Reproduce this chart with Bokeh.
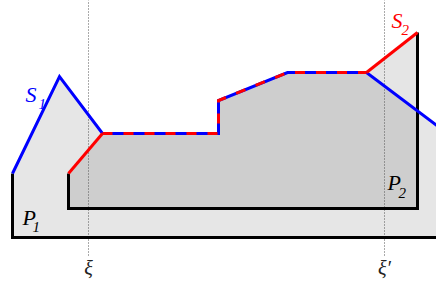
from bokeh.plotting import figure
from bokeh.models import Range1d
from bokeh.core.properties import value
from bokeh.embed import file_html
from bokeh.resources import INLINE

# Diagram vertices (x right, y up)
s1_head_x = [12, 59, 102]
s1_head_y = [114, 211, 154]
common_x = [102, 218, 218, 287, 366]
common_y = [154, 154, 187, 215, 215]
s1_tail_x = [366, 460]
s1_tail_y = [215, 144]
s2_head_x = [68, 102]
s2_head_y = [114, 154]
s2_tail_x = [366, 417]
s2_tail_y = [215, 255]
p1_bottom = 50
p2_bottom = 79
p1_right = 460
xi_positions = [88, 384]
xi_labels = ["ξ", "ξ′"]

p = figure(width=436, height=279, output_backend="svg", toolbar_location=None,
           x_range=Range1d(0, 436), y_range=Range1d(8, 287), min_border=0)
p.axis.visible = False
p.grid.visible = False
p.outline_line_color = None
p.background_fill_color = "white"

# P1 region
p1_x = [s1_head_x[0]] + s1_head_x + common_x[1:] + s1_tail_x[1:] + [p1_right]
p1_y = [p1_bottom] + s1_head_y + common_y[1:] + s1_tail_y[1:] + [p1_bottom]
p.patch(p1_x, p1_y, fill_color="#e6e6e6", line_color=None)

# P2 region
p2_x = [s2_head_x[0]] + s2_head_x + common_x[1:] + s2_tail_x[1:] + [s2_tail_x[-1]]
p2_y = [p2_bottom] + s2_head_y + common_y[1:] + s2_tail_y[1:] + [p2_bottom]
p.patch(p2_x, p2_y, fill_color="black", fill_alpha=0.1, line_color=None)

# dotted verticals
for xv in xi_positions:
    p.line([xv, xv], [32, 300], line_color="#555555", line_width=1, line_dash="1 2")

# black outlines
p.line([s1_head_x[0], s1_head_x[0], p1_right], [s1_head_y[0], p1_bottom, p1_bottom],
       line_color="black", line_width=3, line_join="miter")
p.line([s2_head_x[0], s2_head_x[0], s2_tail_x[-1], s2_tail_x[-1]],
       [s2_head_y[0], p2_bottom, p2_bottom, s2_tail_y[-1]],
       line_color="black", line_width=3, line_join="miter")

# S1 blue
p.line(s1_head_x + common_x[1:] + s1_tail_x[1:], s1_head_y + common_y[1:] + s1_tail_y[1:],
       line_color="#0000ff", line_width=3, line_join="miter")
# S2 red
p.line(s2_head_x, s2_head_y, line_color="#ff0000", line_width=3)
p.line(s2_tail_x, s2_tail_y, line_color="#ff0000", line_width=3)
p.line(common_x, common_y, line_color="#ff0000", line_width=3, line_dash="10 11", line_join="miter")

font = value("Liberation Serif")

def lab(x, y, t, color, size):
    p.text([x], [y], text=[t], text_color=color, text_font=font, text_font_style="italic",
           text_font_size=size, text_baseline="middle", text_align="left")

lab(25, 193, "S", "#0000ff", "22px")
lab(38, 184, "1", "#0000ff", "15px")
lab(391, 267, "S", "#ff0000", "22px")
lab(401, 258, "2", "#ff0000", "15px")
lab(22, 70, "P", "black", "22px")
lab(32, 61, "1", "black", "15px")
lab(387, 105, "P", "black", "22px")
lab(398, 95, "2", "black", "15px")

p.text(xi_positions, [20, 20], text=xi_labels, text_color="#222222", text_font=font,
       text_font_style="italic", text_font_size="20px", text_baseline="middle",
       text_align="center")

open("out.html", "w").write(file_html(p, INLINE))
